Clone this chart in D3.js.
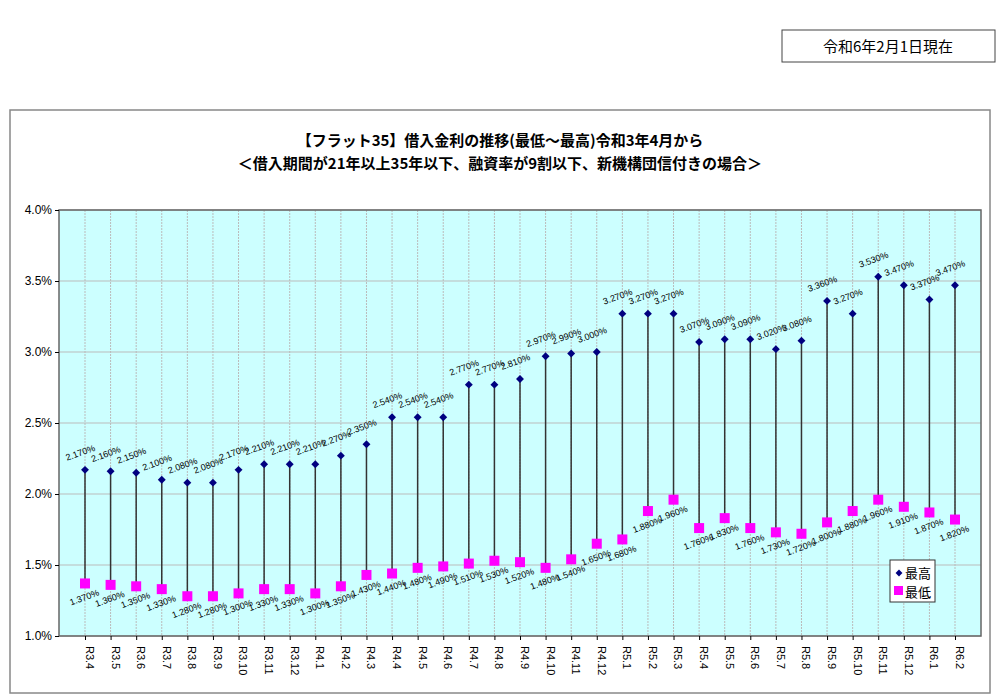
<!DOCTYPE html>
<html><head><meta charset="utf-8">
<script src="https://cdn.jsdelivr.net/npm/d3@7"></script>
<style>body{margin:0;background:#fff;font-family:"Noto Sans CJK JP","DejaVu Sans",sans-serif}</style>
</head><body>
<svg id="c" width="1000" height="700"></svg>
<script>
const months = ['R3.4','R3.5','R3.6','R3.7','R3.8','R3.9','R3.10','R3.11','R3.12','R4.1','R4.2','R4.3','R4.4','R4.5','R4.6','R4.7','R4.8','R4.9','R4.10','R4.11','R4.12','R5.1','R5.2','R5.3','R5.4','R5.5','R5.6','R5.7','R5.8','R5.9','R5.10','R5.11','R5.12','R6.1','R6.2'];
const maxRate = [2.17,2.16,2.15,2.10,2.08,2.08,2.17,2.21,2.21,2.21,2.27,2.35,2.54,2.54,2.54,2.77,2.77,2.81,2.97,2.99,3.00,3.27,3.27,3.27,3.07,3.09,3.09,3.02,3.08,3.36,3.27,3.53,3.47,3.37,3.47];
const minRate = [1.37,1.36,1.35,1.33,1.28,1.28,1.30,1.33,1.33,1.30,1.35,1.43,1.44,1.48,1.49,1.51,1.53,1.52,1.48,1.54,1.65,1.68,1.88,1.96,1.76,1.83,1.76,1.73,1.72,1.80,1.88,1.96,1.91,1.87,1.82];
const yTicks = [1.0,1.5,2.0,2.5,3.0,3.5,4.0];

const svg = d3.select('#c');
const L = 59, R = 981, T = 210, B = 636;

// date box
svg.append('rect').attr('x',782).attr('y',30).attr('width',213).attr('height',32).attr('fill','#fff').attr('stroke','#444');
svg.append('text').attr('x',888).attr('y',52).attr('text-anchor','middle').attr('font-size',15).text('令和6年2月1日現在');

// outer frame
svg.append('rect').attr('x',10).attr('y',110).attr('width',980).attr('height',583).attr('fill','#fff').attr('stroke','#888').attr('stroke-width',1.5);

svg.append('text').attr('x',500).attr('y',146).attr('text-anchor','middle').attr('font-size',15).attr('font-weight','bold')
  .text('【フラット35】借入金利の推移(最低～最高)令和3年4月から');
svg.append('text').attr('x',500).attr('y',169).attr('text-anchor','middle').attr('font-size',15).attr('font-weight','bold')
  .text('＜借入期間が21年以上35年以下、融資率が9割以下、新機構団信付きの場合＞');

const x = d3.scalePoint().domain(months).range([85, 955]);
const y = d3.scaleLinear().domain([1.0, 4.0]).range([B, T]);

svg.append('rect').attr('x',L).attr('y',T).attr('width',R-L).attr('height',B-T).attr('fill','#ccffff');

// gridlines
svg.append('g').selectAll('line').data(months).join('line')
  .attr('x1',d=>x(d)).attr('x2',d=>x(d)).attr('y1',T).attr('y2',B)
  .attr('stroke','#bbb').attr('stroke-dasharray','2,1');
svg.append('g').selectAll('line').data(yTicks).join('line')
  .attr('x1',L).attr('x2',R).attr('y1',d=>y(d)).attr('y2',d=>y(d)).attr('stroke','#bbb');

svg.append('rect').attr('x',L).attr('y',T).attr('width',R-L).attr('height',B-T).attr('fill','none').attr('stroke','#666').attr('stroke-width',1.5);

const ya = svg.append('g').attr('transform',`translate(${L},0)`)
  .call(d3.axisLeft(y).tickValues(yTicks).tickSize(4).tickFormat(d=>d.toFixed(1)+'%'));
ya.select('.domain').remove();
ya.selectAll('text').attr('font-size',12).attr('font-family','Liberation Sans, Arial').attr('fill','#000');

const xa = svg.append('g').attr('transform',`translate(0,${B})`).call(d3.axisBottom(x).tickSize(4));
xa.select('.domain').remove();
xa.selectAll('text').attr('font-size',11).attr('font-family','Liberation Sans, Arial').attr('fill','#000')
  .attr('transform','rotate(90)').attr('text-anchor','start').attr('x',10).attr('y',-4).attr('dy','0.32em');

const rows = months.map((m,i)=>({m, hi:maxRate[i], lo:minRate[i]}));

svg.append('g').selectAll('line').data(rows).join('line')
  .attr('x1',d=>x(d.m)).attr('x2',d=>x(d.m)).attr('y1',d=>y(d.hi)).attr('y2',d=>y(d.lo))
  .attr('stroke','#333').attr('stroke-width',1.5);

svg.append('g').selectAll('rect').data(rows).join('rect')
  .attr('x',d=>x(d.m)-5).attr('y',d=>y(d.lo)-5).attr('width',10).attr('height',10).attr('fill','#ff00ff');
svg.append('g').selectAll('path').data(rows).join('path')
  .attr('transform',d=>`translate(${x(d.m)},${y(d.hi)})`)
  .attr('d',d3.symbol(d3.symbolDiamond2,40)).attr('fill','#000080');

const fmt = v => v.toFixed(3)+'%';
svg.append('g').selectAll('text').data(rows).join('text')
  .attr('transform',d=>`translate(${x(d.m)-18},${y(d.hi)-9}) rotate(-20)`)
  .attr('font-size',9).attr('font-family','Liberation Sans, Arial').text(d=>fmt(d.hi));
svg.append('g').selectAll('text').data(rows).join('text')
  .attr('transform',d=>`translate(${x(d.m)-14},${y(d.lo)+22}) rotate(-20)`)
  .attr('font-size',9).attr('font-family','Liberation Sans, Arial').text(d=>fmt(d.lo));

// legend
const lg = svg.append('g').attr('transform','translate(890,560)');
lg.append('rect').attr('width',45).attr('height',42).attr('fill','#fff').attr('stroke','#333');
lg.append('path').attr('transform','translate(9,13)').attr('d',d3.symbol(d3.symbolDiamond2,30)).attr('fill','#000080');
lg.append('text').attr('x',15).attr('y',18).attr('font-size',13).text('最高');
lg.append('rect').attr('x',4).attr('y',26).attr('width',9).attr('height',9).attr('fill','#ff00ff');
lg.append('text').attr('x',15).attr('y',37).attr('font-size',13).text('最低');
</script>
</body></html>
